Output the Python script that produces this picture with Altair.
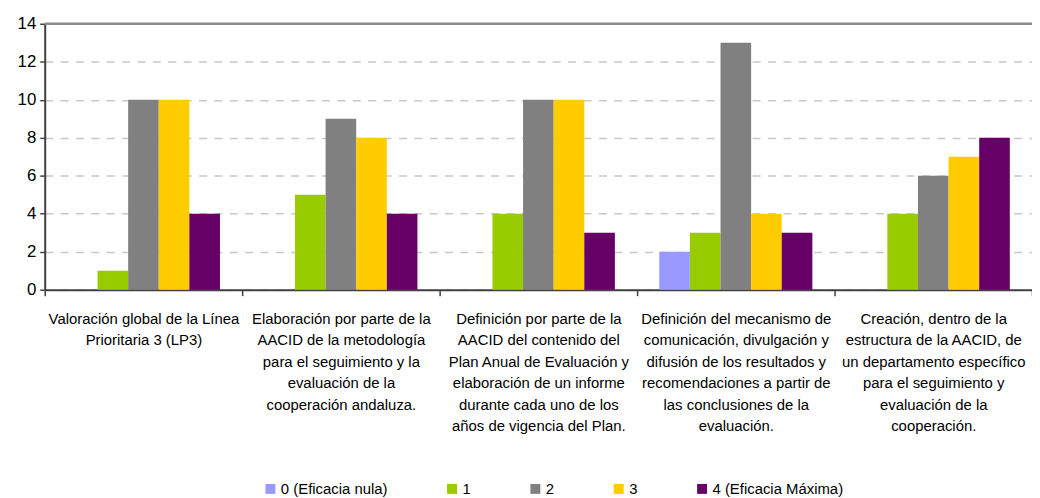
import altair as alt
import pandas as pd

categories = [
    "Valoración global de la Línea|Prioritaria 3 (LP3)",
    "Elaboración por parte de la|AACID de la metodología|para el seguimiento y la|evaluación de la|cooperación andaluza.",
    "Definición por parte de la|AACID del contenido del|Plan Anual de Evaluación y|elaboración de un informe|durante cada uno de los|años de vigencia del Plan.",
    "Definición del mecanismo de|comunicación, divulgación y|difusión de los resultados y|recomendaciones a partir de|las conclusiones de la|evaluación.",
    "Creación, dentro de la|estructura de la AACID, de|un departamento específico|para el seguimiento y|evaluación de la|cooperación.",
]
series = ["0 (Eficacia nula)", "1", "2", "3", "4 (Eficacia Máxima)"]
colors = ["#9999FF", "#99CC00", "#808080", "#FFCC00", "#660066"]
y_ticks = [0, 2, 4, 6, 8, 10, 12, 14]

s0 = [0, 0, 0, 2, 0]
s1 = [1, 5, 4, 3, 4]
s2 = [10, 9, 10, 13, 6]
s3 = [10, 8, 10, 4, 7]
s4 = [4, 4, 3, 3, 8]

rows = []
for name, vals in zip(series, [s0, s1, s2, s3, s4]):
    for c, v in zip(categories, vals):
        rows.append({"cat": c, "serie": name, "valor": v})
df = pd.DataFrame(rows)

FONT = "Liberation Sans, Arial"

y_axis = alt.Axis(values=y_ticks, labelFontSize=17,
                  labelFont=FONT, labelColor="#000",
                  labelPadding=4, labelOverlap=False,
                  domainColor="#404040", domainWidth=2, tickColor="#404040",
                  tickSize=5, tickWidth=1.5,
                  grid=True, gridColor="#c8c8c8", gridDash=[8, 7.5], gridWidth=1.5)
y_scale = alt.Scale(domain=[0, 14], nice=False)

bars = alt.Chart(df).mark_bar().encode(
    x=alt.X("cat:N", sort=categories, title=None,
            scale=alt.Scale(paddingInner=0, paddingOuter=0),
            axis=alt.Axis(labelExpr="split(datum.label, '|')", labelAngle=0,
                          tickBand="extent", labelFontSize=15, labelFont=FONT,
                          labelColor="#000", labelLineHeight=21.6, labelPadding=16,
                          labelBaseline="top", labelLimit=0, labelOverlap=False,
                          domainColor="#404040", domainWidth=2, tickColor="#404040",
                          tickSize=6, tickWidth=1.5, grid=False)),
    xOffset=alt.XOffset("serie:N", sort=series,
                        scale=alt.Scale(paddingOuter=0.725, paddingInner=0)),
    y=alt.Y("valor:Q", title=None, scale=y_scale, axis=y_axis),
    color=alt.Color("serie:N", sort=series,
                    scale=alt.Scale(domain=series, range=colors),
                    legend=alt.Legend(title=None, orient="none", legendX=220, legendY=461,
                                      direction="horizontal", padding=0,
                                      symbolType="square", symbolSize=100, symbolStrokeWidth=0,
                                      labelFontSize=15, labelFont=FONT, labelColor="#000",
                                      columnPadding=57, labelOffset=3)),
)

top = alt.Chart(pd.DataFrame({"y": [14]})).mark_rule(color="#8c8c8c", strokeWidth=2.5).encode(
    y=alt.Y("y:Q", title=None, scale=y_scale, axis=y_axis)
)

chart = alt.layer(bars, top).properties(
    width=995, height=268,
    autosize=alt.AutoSizeParams(type="none"),
    padding={"left": 37, "top": 14, "right": 0, "bottom": 208},
).configure_view(stroke=None)

chart.save("out.html", embed_options={"renderer": "svg", "actions": False})
